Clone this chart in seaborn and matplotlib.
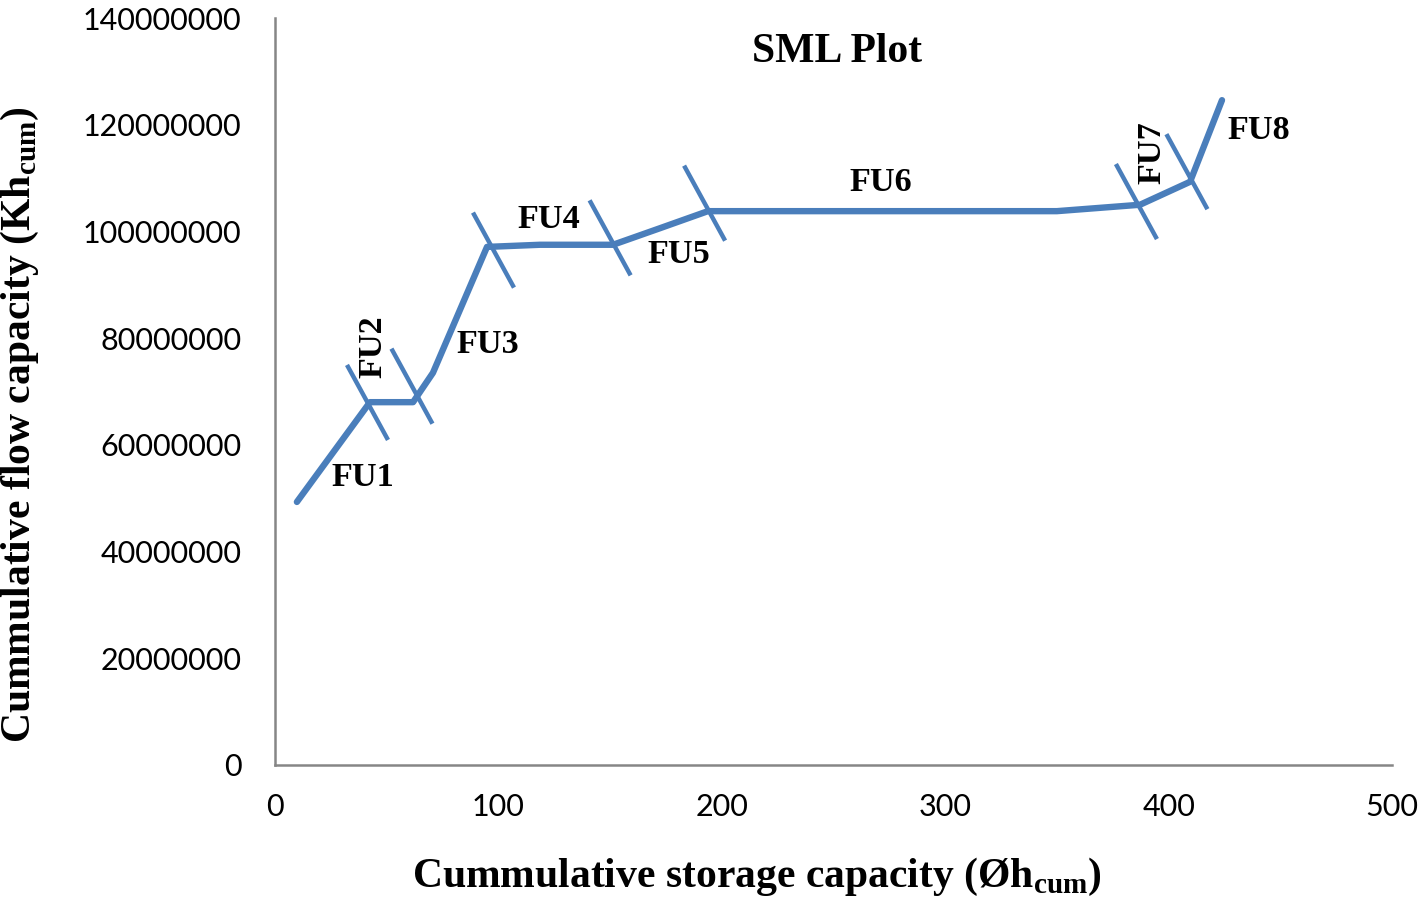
import numpy as np
import pandas as pd
import seaborn as sns
import matplotlib
matplotlib.use("Agg")
import matplotlib.pyplot as plt

# ---- data ----
storage = [9.8, 42.5, 61.8, 70.7, 94.9, 118.6, 151.3, 172.3, 193.8, 324.5, 350.0, 387.2, 409.6, 423.9]
flow = [49.3e6, 68.0e6, 68.0e6, 73.5e6, 97.1e6, 97.5e6, 97.5e6, 100.6e6, 103.8e6, 103.8e6, 103.8e6, 105.0e6, 109.3e6, 124.6e6]

sep_x = [41.4, 61.3, 97.8, 150.0, 192.3, 385.6, 408.2]
sep_y = [67.95e6, 71.0e6, 96.5e6, 98.8e6, 105.3e6, 105.6e6, 111.2e6]

unit_names = ["FU1", "FU2", "FU3", "FU4", "FU5", "FU6", "FU7", "FU8"]
unit_x = [39.4, 43.9, 95.3, 122.6, 180.8, 271.3, 392.6, 440.5]
unit_y = [53.8e6, 78.4e6, 78.9e6, 102.3e6, 95.6e6, 109.1e6, 114.7e6, 119.0e6]
unit_rot = [0, 90, 0, 0, 0, 0, 90, 0]

x_ticks = [0, 100, 200, 300, 400, 500]
y_ticks = [0, 20000000, 40000000, 60000000, 80000000, 100000000, 120000000, 140000000]

# ---- style ----
sns.set_theme(style="white")
plt.rcParams['font.family'] = ['Lato', 'DejaVu Sans']
plt.rcParams['mathtext.fontset'] = 'custom'
plt.rcParams['mathtext.rm'] = 'Liberation Serif'
plt.rcParams['mathtext.bf'] = 'Liberation Serif:bold'

line_color = "#4a7ebb"
spine_color = "#868686"
serif = "Liberation Serif"

fig = plt.figure(figsize=(14.24, 9.0), dpi=100)
ax = fig.add_axes([275/1424, 135/900, 1117/1424, 747/900])

df = pd.DataFrame({"storage": storage, "flow": flow})
sns.lineplot(data=df, x="storage", y="flow", ax=ax, color=line_color, linewidth=4.6,
             sort=False, estimator=None)
for l in ax.lines:
    l.set_solid_capstyle("round")
    l.set_solid_joinstyle("round")

# separators (short slanted strokes across the line)
half_dx = 9.18
half_dy = 7.03e6
for sx, sy in zip(sep_x, sep_y):
    ax.plot([sx - half_dx, sx + half_dx], [sy + half_dy, sy - half_dy],
            color=line_color, linewidth=3.2, solid_capstyle="butt")

for name, ux, uy, rot in zip(unit_names, unit_x, unit_y, unit_rot):
    ax.text(ux, uy, name, ha="center", va="center", rotation=rot,
            fontsize=24.6, fontweight="bold", family=serif, color="black")

ax.text(251.6, 133.6e6, "SML Plot", ha="center", va="center",
        fontsize=30, fontweight="bold", family=serif, color="black")

ax.set_xlim(0, 500)
ax.set_ylim(0, 140000000)
ax.set_xticks(x_ticks)
ax.set_yticks(y_ticks)
ax.set_xticklabels([str(v) for v in x_ticks])
ax.set_yticklabels([str(v) for v in y_ticks])
ax.tick_params(axis="both", which="major", direction="out", length=8, width=1.5,
               color=spine_color, labelsize=22, labelcolor="black")
ax.tick_params(axis="x", pad=12)
ax.tick_params(axis="y", pad=16)

for side in ["top", "right"]:
    ax.spines[side].set_visible(False)
for side in ["left", "bottom"]:
    ax.spines[side].set_color(spine_color)
    ax.spines[side].set_linewidth(1.8)

ax.set_xlabel(r"Cummulative storage capacity (Øh$_{\mathbf{cum}}$)",
              fontsize=30, fontweight="bold", family=serif, color="black")
ax.set_ylabel(r"Cummulative flow capacity (Kh$_{\mathbf{cum}}$)",
              fontsize=30, fontweight="bold", family=serif, color="black")
ax.xaxis.set_label_coords(0.431, -0.15)
ax.yaxis.set_label_coords(-0.228, 0.455)
ax.xaxis.label.set_va("center")
ax.yaxis.label.set_va("center")

fig.savefig("out.png", dpi=100, facecolor="white")
